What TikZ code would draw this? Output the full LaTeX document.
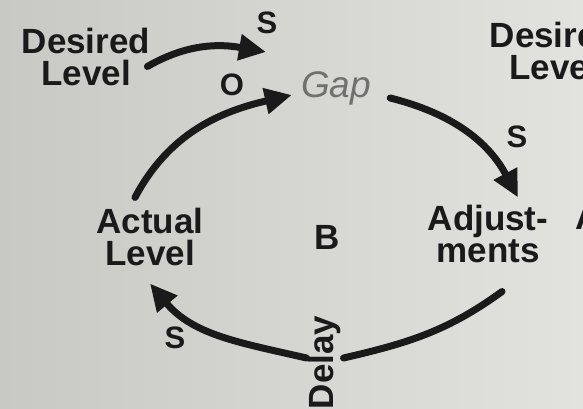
\documentclass[tikz,border=0pt]{standalone}
\usepackage{fontspec}
\setmainfont{Liberation Sans}
\usetikzlibrary{arrows.meta}
\definecolor{ink}{RGB}{26,26,26}
\definecolor{gapink}{RGB}{112,112,110}
\definecolor{paperA}{RGB}{200,200,197}
\definecolor{paperB}{RGB}{226,226,223}
\begin{document}
\begin{tikzpicture}[x=1pt,y=1pt,
  varlbl/.style={font=\bfseries\fontsize{35}{32}\selectfont, text=ink, align=center, inner sep=3pt},
  signlbl/.style={font=\bfseries\fontsize{31}{33}\selectfont, text=ink, inner sep=0pt},
  gaplbl/.style={font=\itshape\fontsize{37}{40}\selectfont, text=gapink, inner sep=3pt},
  link/.style={draw=ink, line width=7pt, line cap=round},
  linkarrow/.style={link, -{Triangle[length=27pt,width=25pt]}}]
\useasboundingbox (0,0) rectangle (583,409);
\clip (0,0) rectangle (583,409);
\shade[left color=paperA, right color=paperB] (0,0) rectangle (583,409);

% variables
\node[varlbl] (desired) at (86,352.5) {Desired\\Level};
\node[varlbl] (desired2) at (554,358.5) {Desired\\Level};
\node[varlbl] (actual) at (150,172.5) {Actual\\Level};
\node[varlbl] (adjust) at (488,175.5) {Adjust-\\ments};
\node[varlbl, anchor=base west] (nextA) at (572,179) {A};
\node[gaplbl] (gap) at (336,321) {Gap};
\node[varlbl, rotate=90] (delay) at (324,46.5) {Delay};
\node[varlbl] (loop) at (327,172) {B};

% polarity signs
\node[signlbl] (s1) at (267,386) {S};
\node[signlbl] (o1) at (232,324) {O};
\node[signlbl] (s2) at (517,272) {S};
\node[signlbl] (s3) at (175,71) {S};

% links
\coordinate (desiredtip) at (266,357);
\draw[linkarrow] ([shift={(-6,-10)}]desired.east) to[out=30,in=170] (desiredtip);
\draw[linkarrow] ([shift={(-15,7)}]actual.north) to[out=62,in=193] ([shift={(-6,-7)}]gap.west);
\draw[linkarrow] ([shift={(16,-10)}]gap.east) to[out=-14,in=118] ([shift={(30,4)}]adjust.north);
\draw[link] ([shift={(14,-26)}]adjust.south) to[out=216,in=13] ([shift={(0,4.5)}]delay.south);
\draw[linkarrow] ([shift={(2,4.5)}]delay.north) to[out=167,in=310] ([shift={(0,-15)}]actual.south);
\end{tikzpicture}
\end{document}
